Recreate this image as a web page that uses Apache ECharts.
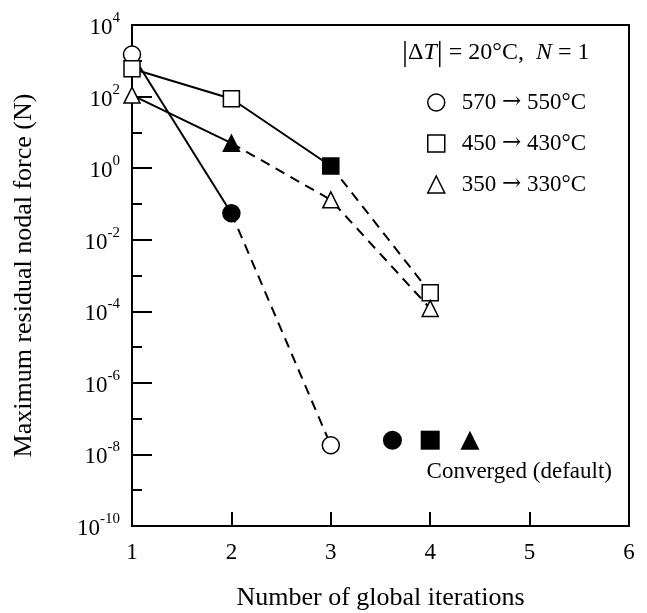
<!DOCTYPE html>
<html>
<head>
<meta charset="utf-8">
<script src="https://cdn.jsdelivr.net/npm/echarts@6/dist/echarts.min.js"></script>
<style>
  html, body { margin: 0; padding: 0; background: #fff; }
  #chart { width: 647px; height: 613px; }
</style>
</head>
<body>
<div id="chart"></div>
<script>
const iterations = [1, 2, 3, 4];
const force570 = [1.5e3, 5.5e-2, 1.8e-8];
const force450 = [6.0e2, 8.7e1, 1.15, 3.3e-4];
const force350 = [1.1e2, 5.0, 1.3e-1, 1.2e-4];
// index of the last point on the solid part (drawn filled)
const solidEnd = [1, 2, 1];
const legends = ['570 \u2192 550\u00b0C', '450 \u2192 430\u00b0C', '350 \u2192 330\u00b0C'];
const symbols = ['circle', 'rect', 'triangle'];
const convergedX = [3.62, 4.0, 4.4];
const convergedY = [2.5e-8, 2.5e-8, 2.5e-8];
const xTicks = [1, 2, 3, 4, 5, 6];

const font = 'Liberation Serif';
const allForces = [force570, force450, force350];

const series = [];
allForces.forEach((f, k) => {
  const pts = f.map((v, i) => [iterations[i], v]);
  const end = solidEnd[k];
  const size = k === 0 ? 17 : 16;
  series.push({
    type: 'line', data: pts.slice(0, end + 1), symbol: 'none', z: 2,
    lineStyle: { color: '#000', width: 2 }
  });
  series.push({
    type: 'line', data: pts.slice(end), symbol: 'none', z: 2,
    lineStyle: { color: '#000', width: 2, type: [10, 7] }
  });
  series.push({
    name: legends[k], type: 'scatter', symbol: symbols[k], z: 3,
    symbolSize: size,
    itemStyle: { color: '#fff', borderColor: '#000', borderWidth: 1.5, opacity: 1 },
    data: pts.map((p, i) => i === end
      ? { value: p, itemStyle: { color: '#000' } }
      : { value: p })
  });
  series.push({
    type: 'scatter', symbol: symbols[k], symbolSize: 19, z: 3,
    itemStyle: { color: '#000', opacity: 1 },
    data: [[convergedX[k], convergedY[k]]]
  });
});

const option = {
  animation: false,
  textStyle: { fontFamily: font, color: '#000' },
  grid: {
    left: 132, right: 18, top: 25, bottom: 87,
    outerBoundsMode: 'none',
    show: true, borderColor: '#000', borderWidth: 2
  },
  legend: {
    data: legends.map((n, k) => ({ name: n, icon: symbols[k] })),
    orient: 'vertical',
    left: 422, top: 86,
    itemWidth: 17, itemHeight: 17, itemGap: 18,
    formatter: n => {
      const p = n.split(' \u2192 ');
      return '{n|' + p[0] + ' }{a|\u2192}{n| ' + p[1] + '}';
    },
    textStyle: {
      fontFamily: font, fontSize: 23, color: '#000', padding: [0, 0, 0, 12],
      rich: {
        n: { fontFamily: font, fontSize: 23, color: '#000' },
        a: { fontFamily: 'DejaVu Serif', fontSize: 23, color: '#000' }
      }
    },
    itemStyle: { color: '#fff', borderColor: '#000', borderWidth: 1.5 }
  },
  xAxis: {
    type: 'value', min: 1, max: 6, interval: 1,
    name: 'Number of global iterations',
    nameLocation: 'middle', nameGap: 59,
    nameTextStyle: { fontFamily: font, fontSize: 26, color: '#000' },
    axisLine: { lineStyle: { color: '#000', width: 2 } },
    axisTick: { inside: true, length: 14, lineStyle: { color: '#000', width: 2 } },
    axisLabel: {
      fontFamily: font, fontSize: 23, color: '#000', margin: 15,
      formatter: v => xTicks.includes(v) ? String(v) : ''
    },
    splitLine: { show: false }
  },
  yAxis: [{
    type: 'log', logBase: 10, min: 1e-10, max: 1e4, interval: 2,
    name: 'Maximum residual nodal force (N)',
    nameLocation: 'middle', nameGap: 95,
    nameTextStyle: { fontFamily: font, fontSize: 26, color: '#000' },
    axisLine: { lineStyle: { color: '#000', width: 2 } },
    axisTick: { inside: true, length: 20, lineStyle: { color: '#000', width: 2 } },
    axisLabel: {
      margin: 12,
      formatter: v => '{b|10}{s|' + Math.round(Math.log10(v)) + '}',
      rich: {
        b: { fontFamily: font, fontSize: 23, color: '#000', padding: [6, 0, 0, 0] },
        s: { fontFamily: font, fontSize: 15, color: '#000', verticalAlign: 'top', padding: [0, 0, 10, 0] }
      }
    },
    splitLine: { show: false }
  }, {
    // odd decades: short ticks only
    type: 'log', logBase: 10, min: 1e-10, max: 1e4, interval: 1,
    position: 'left',
    axisLine: { show: false },
    axisTick: { inside: true, length: 10, lineStyle: { color: '#000', width: 2 } },
    axisLabel: { show: false },
    splitLine: { show: false }
  }],
  graphic: [
    {
      type: 'text', left: 402, top: 38,
      style: {
        text: '{bar||}{n|\u0394}{i|T}{bar||}{n| = 20\u00b0C,  }{i|N}{n| = 1}',
        rich: {
          n: { fontFamily: font, fontSize: 24, fill: '#000' },
          i: { fontFamily: font, fontSize: 24, fontStyle: 'italic', fill: '#000' },
          bar: { fontFamily: font, fontSize: 30, fill: '#000' }
        }
      }
    },
    {
      type: 'text', right: 35, top: 460,
      style: { text: 'Converged (default)', fontFamily: font, fontSize: 23, fill: '#000' }
    }
  ],
  series: series
};

const chart = echarts.init(document.getElementById('chart'));
chart.setOption(option);
</script>
</body>
</html>
